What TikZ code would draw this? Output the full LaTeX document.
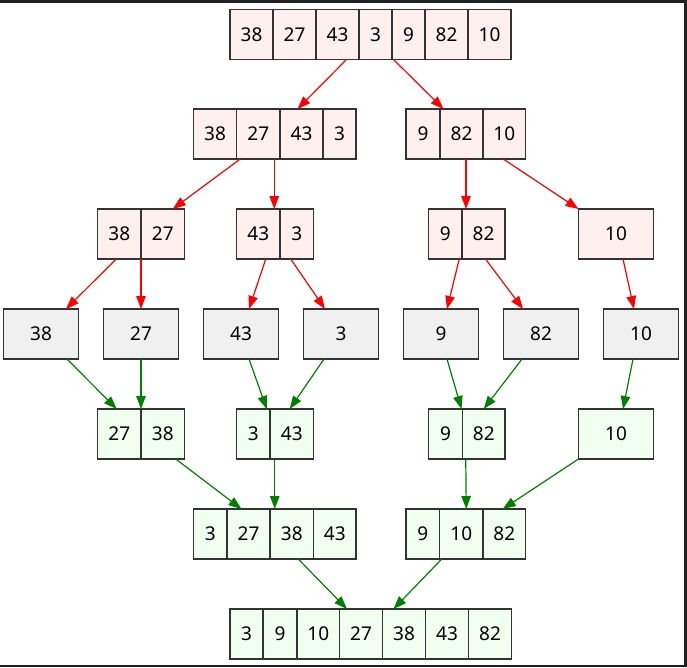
\documentclass[tikz,border=0pt]{standalone}
\usepackage{fontspec}
\setmainfont{Noto Sans}
\usetikzlibrary{arrows.meta}
\definecolor{pinkfill}{HTML}{FDF0EE}
\definecolor{grayfill}{HTML}{F0F0F0}
\definecolor{greenfill}{HTML}{F0FFF0}
\definecolor{boxline}{HTML}{333333}
\definecolor{frame}{HTML}{202020}
\definecolor{gvgreen}{HTML}{008000}
\newcommand\mkcell[6]{\node[cellbox,#6,minimum width={(#3)-(#2)}] (#1) at ({((#2)+(#3))/2},#4) {#5};}
\begin{document}
\begin{tikzpicture}[x=1pt,y=-1pt,
  cellbox/.style={draw=boxline,line width=1.2pt,minimum height=50pt,inner sep=0pt,outer sep=0pt,
    font=\fontsize{19}{21}\selectfont},
  pk/.style={fill=pinkfill},
  gy/.style={fill=grayfill},
  gn/.style={fill=greenfill},
  split/.style={draw=red,line width=1.2pt,-{Triangle[length=13pt,width=9.5pt]}},
  merge/.style={draw=gvgreen,line width=1.2pt,-{Triangle[length=13pt,width=9.5pt]}}]
\useasboundingbox (0,0) rectangle (687,667);
\fill[white] (0,0) rectangle (687,667);
\fill[frame] (0,0) rectangle (687,3);
\fill[frame] (684,0) rectangle (687,667);
\fill[frame] (0,665) rectangle (687,667);
% row 1
\mkcell{a1}{230}{273}{34.5}{38}{pk}
\mkcell{a2}{273}{316}{34.5}{27}{pk}
\mkcell{a3}{316}{359}{34.5}{43}{pk}
\mkcell{a4}{359}{392}{34.5}{3}{pk}
\mkcell{a5}{392}{425}{34.5}{9}{pk}
\mkcell{a6}{425}{468}{34.5}{82}{pk}
\mkcell{a7}{468}{511}{34.5}{10}{pk}
% row 2
\mkcell{b1}{193.5}{236.5}{134}{38}{pk}
\mkcell{b2}{236.5}{280}{134}{27}{pk}
\mkcell{b3}{280}{323}{134}{43}{pk}
\mkcell{b4}{323}{356}{134}{3}{pk}
\mkcell{b5}{406}{440}{134}{9}{pk}
\mkcell{b6}{440}{483}{134}{82}{pk}
\mkcell{b7}{483}{525.5}{134}{10}{pk}
% row 3
\mkcell{c1}{97.5}{141}{234}{38}{pk}
\mkcell{c2}{141}{184.5}{234}{27}{pk}
\mkcell{c3}{236.5}{280}{234}{43}{pk}
\mkcell{c4}{280}{313.5}{234}{3}{pk}
\mkcell{c5}{428.5}{462}{234}{9}{pk}
\mkcell{c6}{462}{505}{234}{82}{pk}
\mkcell{c7}{578.5}{653.5}{234}{10}{pk}
% row 4
\mkcell{d1}{3.5}{78.5}{334}{38}{gy}
\mkcell{d2}{103.5}{178.5}{334}{27}{gy}
\mkcell{d3}{203.5}{278.5}{334}{43}{gy}
\mkcell{d4}{303.5}{378.5}{334}{3}{gy}
\mkcell{d5}{403.5}{478.5}{334}{9}{gy}
\mkcell{d6}{503.5}{578.5}{334}{82}{gy}
\mkcell{d7}{603.5}{678.5}{334}{10}{gy}
% row 5
\mkcell{e1}{97.5}{141}{434}{27}{gn}
\mkcell{e2}{141}{184.5}{434}{38}{gn}
\mkcell{e3}{236.5}{270}{434}{3}{gn}
\mkcell{e4}{270}{313.5}{434}{43}{gn}
\mkcell{e5}{428.5}{462.5}{434}{9}{gn}
\mkcell{e6}{462.5}{505}{434}{82}{gn}
\mkcell{e7}{578.5}{653.5}{434}{10}{gn}
% row 6
\mkcell{f1}{193.5}{227}{534}{3}{gn}
\mkcell{f2}{227}{270}{534}{27}{gn}
\mkcell{f3}{270}{313.5}{534}{38}{gn}
\mkcell{f4}{313.5}{356}{534}{43}{gn}
\mkcell{f5}{406}{439.5}{534}{9}{gn}
\mkcell{f6}{439.5}{483}{534}{10}{gn}
\mkcell{f7}{483}{525.5}{534}{82}{gn}
% row 7
\mkcell{g1}{230}{263}{634}{3}{gn}
\mkcell{g2}{263}{297}{634}{9}{gn}
\mkcell{g3}{297}{339.5}{634}{10}{gn}
\mkcell{g4}{339.5}{382.5}{634}{27}{gn}
\mkcell{g5}{382.5}{425.5}{634}{38}{gn}
\mkcell{g6}{425.5}{468.5}{634}{43}{gn}
\mkcell{g7}{468.5}{511.5}{634}{82}{gn}
% split edges
\draw[split] ([xshift=9pt]a3.south) -- ([xshift=-4pt]b3.north);
\draw[split] ([xshift=-15pt]a5.south) -- ([xshift=-18pt]b6.north);
\draw[split] ([xshift=-18pt]b2.south) -- ([xshift=10pt]c2.north);
\draw[split] ([xshift=16pt]b2.south) -- ([xshift=16pt]c3.north);
\draw[split] ([xshift=4.5pt]b6.south) -- ([xshift=-17.5pt]c6.north);
\draw[split] ([xshift=-1pt]b7.south) -- (c7.north west);
\draw[split] ([xshift=-3pt]c1.south) -- ([xshift=25pt]d1.north);
\draw[split] (c1.south east) -- (d2.north);
\draw[split] ([xshift=7.5pt]c3.south) -- ([xshift=8pt]d3.north);
\draw[split] ([xshift=-6pt]c4.south) -- ([xshift=-16pt]d4.north);
\draw[split] ([xshift=14pt]c5.south) -- ([xshift=6pt]d5.north);
\draw[split] ([xshift=2pt]c6.south) -- ([xshift=-18pt]d6.north);
\draw[split] ([xshift=7pt]c7.south) -- ([xshift=-7pt]d7.north);
% merge edges
\draw[merge] ([xshift=26pt]d1.south) -- ([xshift=-2.5pt]e1.north);
\draw[merge] (d2.south) -- (e1.north east);
\draw[merge] ([xshift=8pt]d3.south) -- ([xshift=13.5pt]e3.north);
\draw[merge] ([xshift=-17pt]d4.south) -- ([xshift=-2pt]e4.north);
\draw[merge] ([xshift=6pt]d5.south) -- ([xshift=16pt]e5.north);
\draw[merge] ([xshift=-19pt]d6.south) -- (e6.north);
\draw[merge] ([xshift=-8pt]d7.south) -- ([xshift=7pt]e7.north);
\draw[merge] ([xshift=13pt]e2.south) -- ([xshift=-7pt]f2.north);
\draw[merge] ([xshift=-17pt]e4.south) -- ([xshift=-17pt]f3.north);
\draw[merge] ([xshift=-18pt]e6.south) -- ([xshift=5pt]f6.north);
\draw[merge] (e7.south west) -- ([xshift=-1.5pt]f7.north);
\draw[merge] ([xshift=6.5pt]f3.south) -- ([xshift=-14pt]g4.north);
\draw[merge] ([xshift=-19.5pt]f6.south) -- ([xshift=-10.5pt]g5.north);
\end{tikzpicture}
\end{document}
